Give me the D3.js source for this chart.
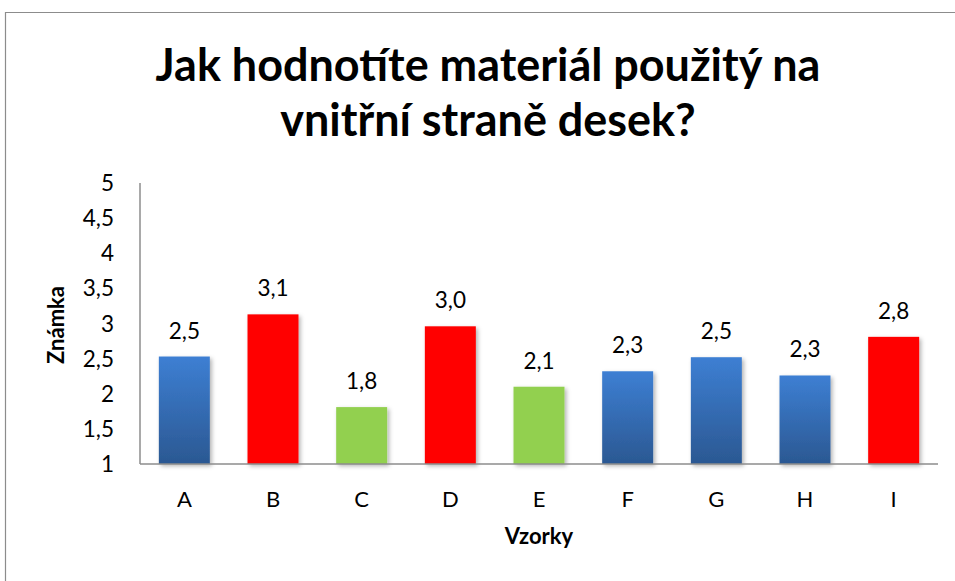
<!DOCTYPE html>
<html><head><meta charset="utf-8">
<script src="https://cdn.jsdelivr.net/npm/d3@7"></script>
<style>body{margin:0;background:#fff}svg{display:block}text{font-family:Lato,"Open Sans",sans-serif}</style>
</head><body>
<svg id="c" width="955" height="581"></svg>
<script>
const categories = ["A","B","C","D","E","F","G","H","I"];
const values = [2.53, 3.13, 1.81, 2.96, 2.10, 2.32, 2.52, 2.26, 2.81];
const colorGroups = ["blue","red","green","red","green","blue","blue","blue","red"];
const yTicks = [1,1.5,2,2.5,3,3.5,4,4.5,5];
const titleLines = ["Jak hodnotíte materiál použitý na","vnitřní straně desek?"];
const yTitle = "Známka", xTitle = "Vzorky";

const svg = d3.select("#c");
const fmt = v => d3.format(".1f")(v).replace(".", ",");
const defs = svg.append("defs");
const g1 = defs.append("linearGradient").attr("id","gb").attr("x1",0).attr("y1",0).attr("x2",0).attr("y2",1);
g1.append("stop").attr("offset","0%").attr("stop-color","#3d7fd3");
g1.append("stop").attr("offset","100%").attr("stop-color","#2b5892");
const f = defs.append("filter").attr("id","sh").attr("x","-20%").attr("y","-20%").attr("width","150%").attr("height","150%");
f.append("feDropShadow").attr("dx",2).attr("dy",2).attr("stdDeviation",2).attr("flood-color","#000").attr("flood-opacity",0.3);
const fills = {blue:"url(#gb)", red:"#ff0000", green:"#92d050"};

svg.append("path").attr("d","M5.5,581 L5.5,12.5 L955,12.5").attr("fill","none").attr("stroke","#8c8c8c").attr("stroke-width",1.2);

const x = d3.scaleBand().domain(categories).range([140,938]).paddingInner(0.425).paddingOuter(0.2125);
const y = d3.scaleLinear().domain([1,5]).range([464,183]);

// title: fit line 1 to measured width
const t1 = svg.append("text").attr("x",488).attr("y",81).attr("text-anchor","middle")
  .attr("font-weight","bold").attr("font-size",40).attr("fill","#000").text(titleLines[0]);
const fsT = 40*665/t1.node().getComputedTextLength();
t1.attr("font-size",fsT);
svg.append("text").attr("x",488).attr("y",136).attr("text-anchor","middle")
  .attr("font-weight","bold").attr("font-size",fsT).attr("fill","#000").text(titleLines[1]);

svg.append("line").attr("x1",140).attr("x2",140).attr("y1",183).attr("y2",464).attr("stroke","#8c8c8c").attr("stroke-width",1.5);
svg.append("g").selectAll("text").data(yTicks).join("text")
  .attr("x",114).attr("y",d=>y(d)).attr("dy","0.36em").attr("text-anchor","end")
  .attr("font-size",22.5).attr("fill","#000").text(d=>fmt(d).replace(",0",""));

svg.append("g").selectAll("rect").data(values).join("rect")
  .attr("x",(d,i)=>x(categories[i])).attr("width",x.bandwidth())
  .attr("y",d=>y(d)).attr("height",d=>y(1)-y(d))
  .attr("fill",(d,i)=>fills[colorGroups[i]]).attr("filter","url(#sh)");

svg.append("line").attr("x1",140).attr("x2",938).attr("y1",464).attr("y2",464).attr("stroke","#8c8c8c").attr("stroke-width",1.5);

svg.append("g").selectAll("text").data(values).join("text")
  .attr("x",(d,i)=>x(categories[i])+x.bandwidth()/2).attr("y",d=>y(d)-18)
  .attr("text-anchor","middle").attr("font-size",22.5).attr("fill","#000").text(d=>fmt(d));

svg.append("g").selectAll("text").data(categories).join("text")
  .attr("x",d=>x(d)+x.bandwidth()/2).attr("y",507).attr("text-anchor","middle")
  .attr("font-size",22).attr("fill","#000").text(d=>d);

svg.append("text").attr("x",539).attr("y",544).attr("text-anchor","middle").attr("font-weight","bold")
  .attr("font-size",22).attr("fill","#000").text(xTitle);
svg.append("text").attr("transform","translate(64,325) rotate(-90)").attr("text-anchor","middle").attr("font-weight","bold")
  .attr("font-size",22).attr("fill","#000").text(yTitle);
</script>
</body></html>
